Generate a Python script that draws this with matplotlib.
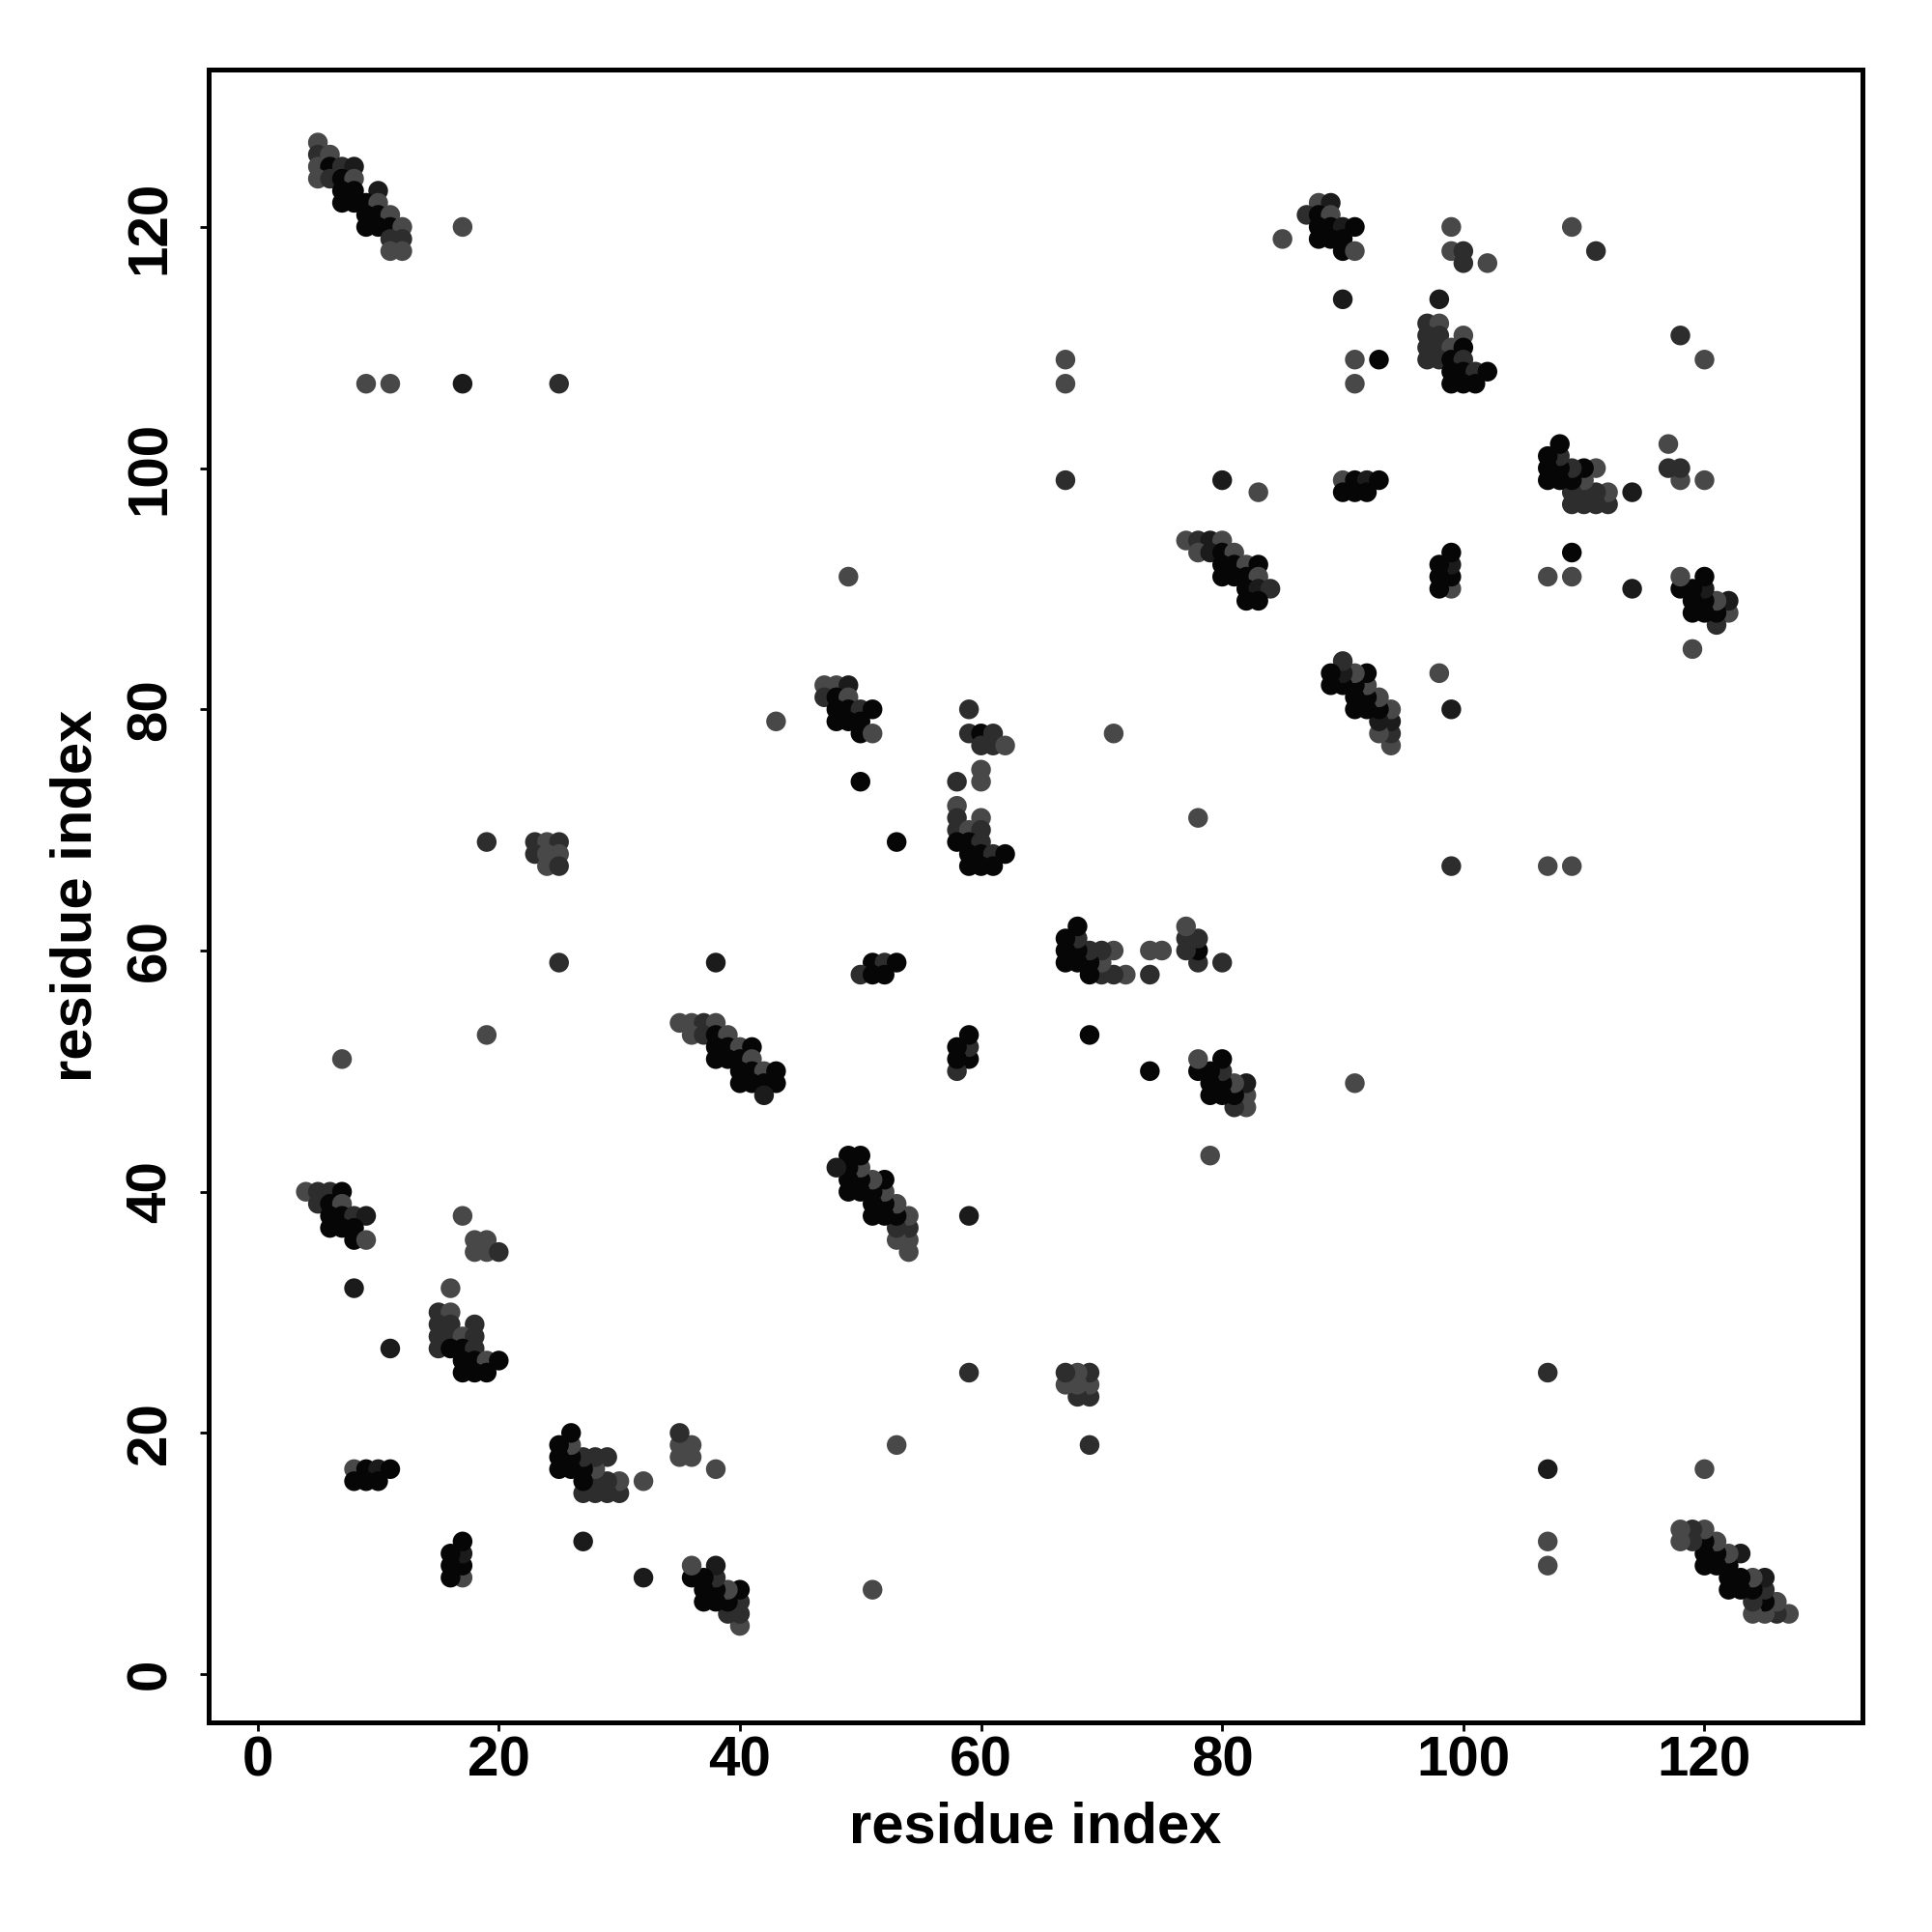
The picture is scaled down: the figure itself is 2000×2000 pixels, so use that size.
import matplotlib
matplotlib.use("Agg")
import matplotlib.pyplot as plt
import numpy as np

# Contact pairs (i < j) with shade level: 0 black, 1 very dark, 2 dark, 3 gray.
# The map is symmetric; each pair is drawn at (i, j) and (j, i).
cluster_a = [(5,127,3),(5,126,2),(6,126,3),(5,125,3),(6,125,0),(7,125,2),(8,125,1),
             (5,124,3),(6,124,2),(7,124,0),(8,124,3),(7,123,0),(8,123,0),(10,123,1),
             (7,122,0),(8,122,0),(9,122,0),(10,122,3),(9,121,0),(10,121,0),(11,121,3),
             (9,120,0),(10,120,0),(11,120,0),(12,120,3),(11,119,2),(12,119,2),
             (11,118,3),(12,118,3)]
singles_a = [(17,120,3),(9,107,3),(11,107,3),(17,107,1),(25,107,2)]
cluster_d = [(19,69,2),(23,69,2),(24,69,3),(25,69,2),(23,68,2),(24,68,3),(25,68,3),
             (24,67,3),(25,67,2)]
singles_b = [(25,59,2),(38,59,1),(7,51,3),(19,53,3),(8,32,1),(11,27,1),(16,32,3),(17,38,3)]
cluster_g = [(4,40,3),(5,40,2),(6,40,2),(7,40,0),(5,39,2),(6,39,0),(7,39,3),
             (6,38,0),(7,38,0),(8,38,2),(9,38,1),(6,37,0),(7,37,0),(8,37,0),
             (8,36,0),(9,36,3)]
cluster_h = [(15,30,2),(16,30,3),(15,29,2),(16,29,2),(18,29,2),(15,28,2),(16,28,2),
             (17,28,3),(18,28,2),(15,27,2),(16,27,0),(17,27,0),(18,27,2),(17,26,0),
             (18,26,0),(19,26,3),(20,26,0),(17,25,0),(18,25,0),(19,25,0)]
cluster_h2 = [(18,36,3),(19,36,3),(18,35,3),(19,35,3),(20,35,2)]
cluster_i = [(8,17,3),(9,17,0),(10,17,1),(11,17,0),(8,16,0),(9,16,0),(10,16,0)]
cluster_m = [(35,54,3),(36,54,3),(37,54,2),(38,54,3),(36,53,3),(37,53,2),(38,53,0),
             (39,53,3),(38,52,0),(39,52,0),(40,52,3),(41,52,0),(38,51,0),(39,51,0),
             (40,51,0),(41,51,3),(40,50,0),(41,50,0),(42,50,3),(43,50,0),(40,49,0),
             (41,49,0),(42,49,0),(43,49,0),(42,48,1)]
singles_c = [(43,79,3),(49,91,3),(50,74,0),(53,69,0),(71,78,3)]
cluster_o = [(47,82,3),(48,82,3),(49,82,1),(47,81,2),(48,81,0),(49,81,3),(48,80,0),
             (49,80,0),(50,80,2),(51,80,0),(48,79,0),(49,79,0),(50,79,0),(50,78,0),
             (51,78,3)]
cluster_q = [(51,59,0),(52,59,2),(53,59,0),(50,58,2),(51,58,0),(52,58,0)]
cluster_r = [(59,80,2),(59,78,2),(60,78,0),(61,78,2),(60,77,2),(61,77,2),(62,77,3),
             (60,75,3),(60,74,3),(58,74,2),(58,72,3),(58,71,2),(60,71,3),(58,70,2),
             (59,70,3),(60,70,2),(58,69,0),(59,69,0),(60,69,2),(59,68,0),(60,68,0),
             (61,68,2),(62,68,0),(59,67,0),(60,67,0),(61,67,0)]
cluster_z = [(77,94,3),(78,94,2),(79,94,1),(80,94,3),(78,93,3),(79,93,1),(80,93,0),
             (81,93,3),(80,92,0),(81,92,0),(82,92,3),(83,92,0),(80,91,0),(81,91,0),
             (82,91,0),(83,91,3),(82,90,0),(83,90,1),(84,90,2),(82,89,0),(83,89,0)]
singles_d = [(80,99,1),(83,98,3),(85,119,3),(90,114,1),(91,107,3),(91,109,3),(93,109,0),
             (67,99,2),(67,107,3),(67,109,3),(98,114,1),(109,120,3),(111,118,2)]
cluster_ab = [(88,122,3),(89,122,1),(87,121,2),(88,121,0),(89,121,3),(88,120,0),
              (89,120,0),(90,120,1),(91,120,0),(88,119,0),(89,119,0),(90,119,0),
              (90,118,0),(91,118,3)]
cluster_ad = [(90,99,3),(91,99,0),(92,99,1),(93,99,0),(90,98,0),(91,98,0),(92,98,0)]
cluster_ac = [(97,112,2),(98,112,3),(97,111,2),(98,111,2),(100,111,3),(97,110,2),
              (98,110,2),(99,110,3),(100,110,0),(97,109,2),(98,109,2),(99,109,0),
              (100,109,2),(99,108,0),(100,108,0),(101,108,2),(102,108,0),(99,107,0),
              (100,107,0),(101,107,0)]
cluster_ag = [(99,120,3),(99,118,3),(100,118,2),(100,117,2),(102,117,3)]

shade_colors = ["#060606", "#1b1b1b", "#2d2d2d", "#484848"]

all_pairs = (cluster_a + singles_a + cluster_d + singles_b + cluster_g + cluster_h +
             cluster_h2 + cluster_i + cluster_m + singles_c + cluster_o + cluster_q +
             cluster_r + cluster_z + singles_d + cluster_ab + cluster_ad + cluster_ac +
             cluster_ag)
res_i = np.array([p[0] for p in all_pairs])
res_j = np.array([p[1] for p in all_pairs])
levels = [p[2] for p in all_pairs]
cols = [shade_colors[k] for k in levels]

x_vals = np.concatenate([res_i, res_j])
y_vals = np.concatenate([res_j, res_i])
c_vals = cols + cols

plt.rcParams['font.family'] = ['Liberation Sans', 'DejaVu Sans']
fig = plt.figure(figsize=(10, 10), dpi=200)
ax = fig.add_axes([0.108, 0.1085, 0.856, 0.8555])
ax.scatter(x_vals, y_vals, s=54, c=c_vals, linewidths=0, zorder=3)

ax.set_xlim(-4.06, 133.1)
ax.set_ylim(-4.0, 133.05)
ticks = [0, 20, 40, 60, 80, 100, 120]
ax.set_xticks(ticks)
ax.set_yticks(ticks)
ax.set_xticklabels([str(t) for t in ticks], fontsize=21, fontweight='bold')
ax.set_yticklabels([str(t) for t in ticks], fontsize=21, fontweight='bold',
                   rotation=90, va='center')
ax.tick_params(axis='both', direction='out', length=3.3, width=1.0)
ax.tick_params(axis='x', pad=1.5)
ax.tick_params(axis='y', pad=8.5)
for sp in ax.spines.values():
    sp.set_linewidth(1.8)

ax.set_xlabel("residue index", fontsize=21.5, fontweight='bold')
ax.set_ylabel("residue index", fontsize=21.5, fontweight='bold')
ax.xaxis.label.set_va('center')
ax.yaxis.label.set_va('center')
ax.xaxis.set_label_coords(0.5, -0.0637)
ax.yaxis.set_label_coords(-0.080, 0.5)

fig.savefig("out.png", dpi=200, facecolor='white')
